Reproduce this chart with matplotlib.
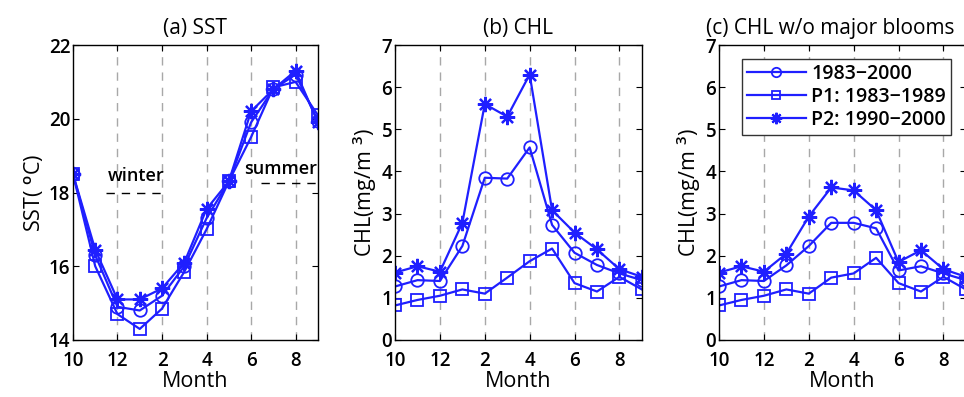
import matplotlib
matplotlib.use("Agg")
import matplotlib.pyplot as plt
import numpy as np

plt.rcParams['font.family'] = ['Open Sans', 'DejaVu Sans']
plt.rcParams['font.weight'] = 'semibold'
plt.rcParams['mathtext.fontset'] = 'custom'
plt.rcParams['mathtext.rm'] = 'Open Sans:semibold'

# months Oct..Sep
month_ticks = ['10', '12', '2', '4', '6', '8']
labels = ['1983\u22122000', 'P1: 1983\u22121989', 'P2: 1990\u22122000']

sst_all = [18.5, 16.3, 14.9, 14.8, 15.2, 16.0, 17.3, 18.3, 19.9, 20.8, 21.2, 19.95]
sst_p1 = [18.5, 16.0, 14.7, 14.3, 14.85, 15.85, 17.0, 18.3, 19.5, 20.85, 21.0, 20.1]
sst_p2 = [18.5, 16.45, 15.1, 15.1, 15.4, 16.1, 17.55, 18.3, 20.2, 20.8, 21.3, 19.9]

chl_all = [1.27, 1.42, 1.4, 2.23, 3.85, 3.83, 4.57, 2.73, 2.07, 1.78, 1.58, 1.42]
chl_p1 = [0.82, 0.95, 1.05, 1.2, 1.1, 1.48, 1.87, 2.17, 1.35, 1.15, 1.5, 1.2]
chl_p2 = [1.6, 1.75, 1.62, 2.78, 5.6, 5.3, 6.3, 3.08, 2.55, 2.15, 1.68, 1.5]

nb_all = [1.27, 1.42, 1.4, 1.77, 2.23, 2.78, 2.78, 2.65, 1.65, 1.75, 1.58, 1.42]
nb_p1 = [0.82, 0.95, 1.05, 1.2, 1.1, 1.48, 1.58, 1.95, 1.35, 1.15, 1.5, 1.2]
nb_p2 = [1.6, 1.75, 1.62, 2.05, 2.93, 3.62, 3.55, 3.08, 1.85, 2.13, 1.68, 1.5]

x = np.arange(12)
blue = '#1f1fff'
asterisk = (8, 2, 0)

fig = plt.figure(figsize=(9.64, 3.97), dpi=100)
axa = fig.add_axes([0.0757, 0.1436, 0.254, 0.743])
axb = fig.add_axes([0.4098, 0.1436, 0.256, 0.743])
axc = fig.add_axes([0.7459, 0.1436, 0.256, 0.743])


def draw(ax, all_, p1, p2, title, ylabel, ylim, yticks):
    ax.plot(x, all_, '-', marker='o', color=blue, lw=1.6, ms=9, mfc='none', mew=1.3, label=labels[0])
    ax.plot(x, p1, '-', marker='s', color=blue, lw=1.6, ms=8, mfc='none', mew=1.3, label=labels[1])
    ax.plot(x, p2, '-', marker=asterisk, color=blue, lw=1.6, ms=11, mew=1.6, label=labels[2])
    for xv in [2, 4, 6, 8, 10]:
        ax.axvline(xv, color='#a8a8a8', ls=(0, (6, 5)), lw=1.0, zorder=0)
    ax.set_xlim(0, 11)
    ax.set_xticks(np.arange(0, 12, 2))
    ax.set_xticklabels(month_ticks)
    ax.set_ylim(*ylim)
    ax.set_yticks(yticks)
    ax.tick_params(direction='in', top=True, right=True, labelsize=13.5, length=4, pad=2)
    ax.tick_params(axis='x', pad=8)
    ax.set_xlabel('Month', fontsize=15.5, labelpad=0)
    ax.set_ylabel(ylabel, fontsize=15.5, labelpad=2)
    ax.set_title(title, fontsize=15, pad=8)
    for s in ax.spines.values():
        s.set_linewidth(1.0)


draw(axa, sst_all, sst_p1, sst_p2, '(a) SST', r'SST( $^{\rm o}$C)', (14, 22), [14, 16, 18, 20, 22])
draw(axb, chl_all, chl_p1, chl_p2, '(b) CHL', r'CHL(mg/m $^3$)', (0, 7), range(8))
draw(axc, nb_all, nb_p1, nb_p2, '(c) CHL w/o major blooms', r'CHL(mg/m $^3$)', (0, 7), range(8))
axc.title.set_position((0.45, 1.0))

# season markers
axa.plot([1.5, 4.2], [18.0, 18.0], color='k', ls=(0, (6, 5)), lw=1.0)
axa.text(2.85, 18.2, 'winter', fontsize=13, ha='center', va='bottom')
axa.plot([8.45, 11], [18.25, 18.25], color='k', ls=(0, (6, 5)), lw=1.0)
axa.text(9.35, 18.4, 'summer', fontsize=13, ha='center', va='bottom')

leg = axc.legend(loc='upper left', bbox_to_anchor=(0.055, 0.985), fontsize=14, frameon=True,
                 fancybox=False, edgecolor='#333333', framealpha=1, handlelength=3.0,
                 borderpad=0.25, labelspacing=0.15, handletextpad=0.3, markerscale=0.75)
leg.get_frame().set_linewidth(1.0)

fig.savefig('out.png', dpi=100)
